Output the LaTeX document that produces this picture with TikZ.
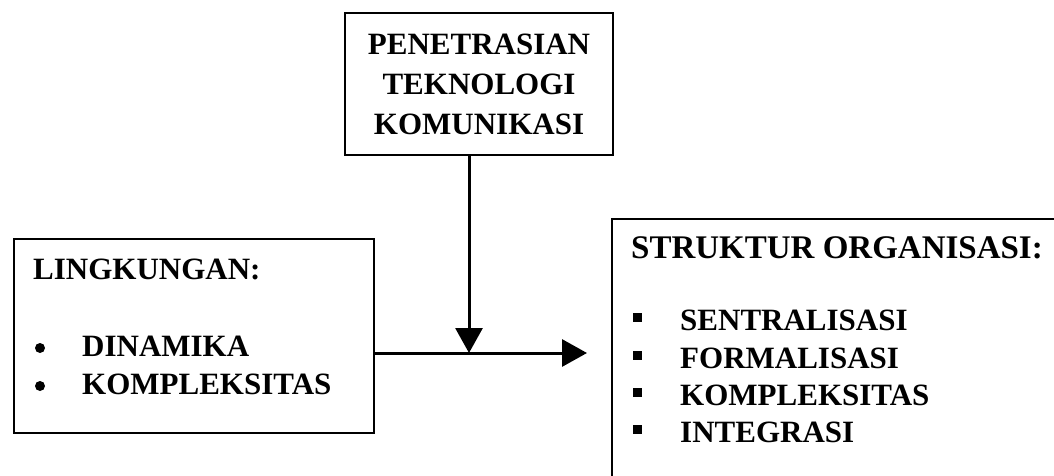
\documentclass[tikz,border=0pt]{standalone}
\usepackage{fontspec}
\setmainfont{Liberation Serif}
\usetikzlibrary{arrows.meta}
\tikzset{
  box/.style={draw=black, line width=2pt, inner sep=0pt},
  txt/.style={inner sep=0pt, font=\bfseries\fontsize{31}{40}\selectfont},
  bigtxt/.style={inner sep=0pt, font=\bfseries\fontsize{33}{40}\selectfont},
  conn/.style={line width=3pt, -{Triangle[length=25pt,width=27pt]}},
  sqbullet/.style={fill=black},
}
\begin{document}
\begin{tikzpicture}[x=1pt,y=-1pt]
\clip (0,0) rectangle (1054,476);
\useasboundingbox (0,0) rectangle (1054,476);
\fill[white] (0,0) rectangle (1054,476);
% boxes
\node[box, txt, align=center, minimum width=268pt, minimum height=142pt] (tech) at (479,84)
  {PENETRASIAN\\TEKNOLOGI\\KOMUNIKASI};
\node[box, minimum width=360pt, minimum height=194pt, anchor=north west] (env) at (13,238) {};
\node[box, minimum width=520pt, minimum height=320pt, anchor=north west] (org) at (611,218) {};
% left texts
\node[txt, anchor=base west] (envt) at (33,279) {LINGKUNGAN:};
\node[txt, anchor=base west] (e1) at (82,356) {DINAMIKA};
\node[txt, anchor=base west] (e2) at (82,394) {KOMPLEKSITAS};
\fill (40,348) circle (5);
\fill (40,386) circle (5);
% right texts
\node[bigtxt, anchor=base west] (orgt) at (631,258) {STRUKTUR ORGANISASI:};
\node[txt, anchor=base west] (o1) at (680,330) {SENTRALISASI};
\node[txt, anchor=base west] (o2) at (680,368) {FORMALISASI};
\node[txt, anchor=base west] (o3) at (680,405) {KOMPLEKSITAS};
\node[txt, anchor=base west] (o4) at (680,442) {INTEGRASI};
\foreach \b in {330,368,405,442}{\fill[sqbullet] (633,\b-17) rectangle (642,\b-8);}
% connectors
\coordinate (j) at (469,353);
\coordinate (t) at (587,353);
\draw[conn] (tech.south -| j) -- (j);
\draw[conn] (env.east |- j) -- (t);
\end{tikzpicture}
\end{document}
